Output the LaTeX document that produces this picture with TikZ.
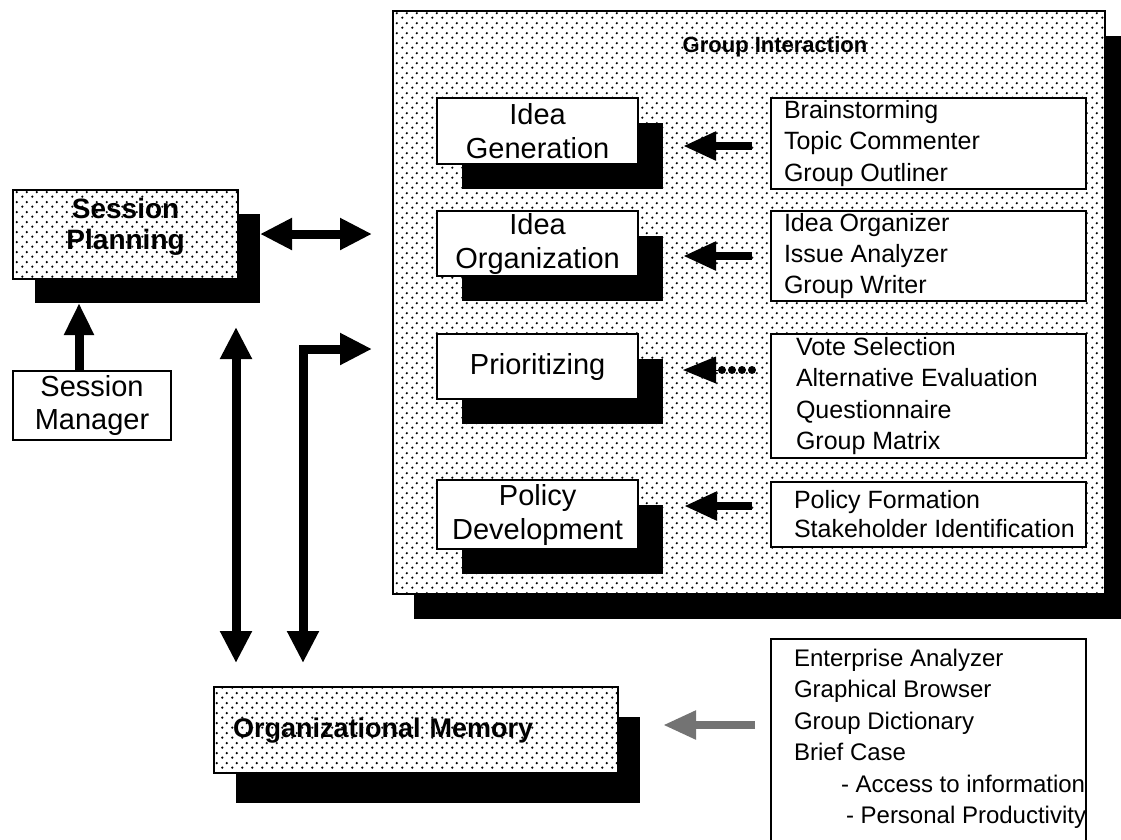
\documentclass[tikz,border=0pt]{standalone}
\usepackage{fontspec}
\setmainfont{Liberation Sans}
\usetikzlibrary{arrows.meta,patterns.meta,shadows}

% halftone dot screen used for the shaded panels
\tikzdeclarepattern{
  name=halftone,
  type=uncolored,
  bounding box={(0pt,0pt) and (10pt,10pt)},
  tile size={(10pt,10pt)},
  code={
    \fill (2.5pt,2.5pt) circle (1.35pt);
    \fill (7.5pt,7.5pt) circle (1.35pt);
  }
}

\begin{document}
\begin{tikzpicture}[x=1pt,y=-1pt,
  shade box/.style 2 args={general shadow={fill=black, shadow xshift=#1pt, shadow yshift=-#2pt}},
  panel/.style={draw=black, line width=2.2pt, preaction={fill=white}, pattern=halftone,
    anchor=north west, inner sep=0pt},
  stepbox/.style={draw=black, line width=2.2pt, fill=white, anchor=north west, inner sep=0pt,
    align=center, minimum width=201, font=\fontsize{29}{34}\selectfont},
  listbox/.style={draw=black, line width=2pt, fill=white, anchor=north west, inner sep=0pt,
    minimum width=315},
  title/.style={font=\bfseries\fontsize{#1}{#1}\selectfont},
  bigarrow/.style={line width=9pt, line join=miter,
    arrows={Triangle[length=32pt,width=30pt]-Triangle[length=32pt,width=30pt]}},
  upward/.style={line width=9pt, arrows={-Triangle[length=32pt,width=28pt]}},
  feed/.style={line width=8pt, arrows={-Triangle[length=33pt,width=27pt]}},
]
\useasboundingbox (0,0) rectangle (1121,839);

% ---------- Group Interaction panel ----------
\node[shade box={21}{25}, panel, minimum width=712, minimum height=583] (gi) at (392,10) {};
\node[title=22] (gititle) at (775,47) {Group Interaction};

% activity boxes
\node[shade box={25}{25}, stepbox, minimum height=66] (ig) at (436,97) {Idea\\Generation};
\node[shade box={25}{25}, stepbox, minimum height=65] (io) at (436,210) {Idea\\Organization};
\node[shade box={25}{25}, stepbox, minimum height=65] (pr) at (436,333) {Prioritizing};
\node[shade box={25}{25}, stepbox, minimum height=69] (pd) at (436,479) {Policy\\Development};

% tool lists
\node[listbox, minimum height=91] (t1) at (770,97)
  {\parbox{289pt}{\raggedright\fontsize{25}{31.5}\selectfont Brainstorming\\Topic Commenter\\Group Outliner}};
\node[listbox, minimum height=90] (t2) at (770,210)
  {\parbox{289pt}{\raggedright\fontsize{25}{31}\selectfont Idea Organizer\\Issue Analyzer\\Group Writer}};
\node[listbox, minimum height=124] (t3) at (770,333)
  {\parbox{265pt}{\raggedright\fontsize{25}{31.5}\selectfont Vote Selection\\Alternative Evaluation\\Questionnaire\\Group Matrix}};
\node[listbox, minimum height=65] (t4) at (770,481)
  {\parbox{269pt}{\raggedright\fontsize{25}{29}\selectfont Policy Formation\\\mbox{Stakeholder Identification}}};

% tool-to-activity arrows
\coordinate (f1s) at (752,146); \coordinate (f1e) at (683,146);
\coordinate (f2s) at (752,256); \coordinate (f2e) at (683,256);
\coordinate (f3s) at (752,370); \coordinate (f3e) at (683,370);
\coordinate (f4s) at (752,506); \coordinate (f4e) at (684,506);
\draw[feed] (f1s) -- (f1e);
\draw[feed] (f2s) -- (f2e);
\draw[line width=8pt, line cap=round, dash pattern=on 0pt off 10pt] (f3s) -- (713,370);
\draw[feed, line width=0pt] (717,370) -- (f3e);
\draw[feed] (f4s) -- (f4e);

% ---------- Session planning ----------
\node[shade box={22}{24}, panel, minimum width=225, minimum height=89, align=center,
      text depth=22pt, font=\bfseries\fontsize{28}{31}\selectfont] (sp) at (12,189) {Session\\Planning};
\node[draw=black, line width=2pt, fill=white, anchor=north west, inner sep=0pt,
      minimum width=158, minimum height=69, align=center,
      font=\fontsize{29}{33}\selectfont] (sm) at (12,370) {Session\\Manager};
\coordinate (smtop) at (79,370);
\coordinate (spbot) at (79,303);
\draw[upward] (smtop) -- (spbot);

% session planning <-> group interaction
\coordinate (spr) at (260,234);
\coordinate (gil) at (372,234);
\draw[bigarrow] (spr) -- (gil);

% ---------- Organizational memory ----------
\node[shade box={22}{30}, panel, minimum width=404, minimum height=86, text width=366,
      inner xsep=19pt, align=left, font=\bfseries\fontsize{27}{30}\selectfont]
      (om) at (213,686) {Organizational Memory};

\coordinate (vtop) at (236,327);
\coordinate (vbot) at (236,663);
\draw[bigarrow] (vtop) -- (vbot);
\coordinate (ebot) at (303,663);
\coordinate (eend) at (372,349);
\draw[bigarrow] (ebot) |- (eend);

% memory tools
\node[listbox, minimum height=208] (t5) at (770,638)
  {\parbox[c][188pt][t]{269pt}{\raggedright\fontsize{24}{31.5}\selectfont Enterprise Analyzer\\Graphical Browser\\Group Dictionary\\Brief Case\\
   \mbox{\hspace*{47pt}- Access to information}\\\mbox{\hspace*{52pt}- Personal Productivity}}};
\coordinate (ms) at (755,725);
\coordinate (me) at (663,725);
\draw[feed, black!55] (ms) -- (me);
\end{tikzpicture}
\end{document}
